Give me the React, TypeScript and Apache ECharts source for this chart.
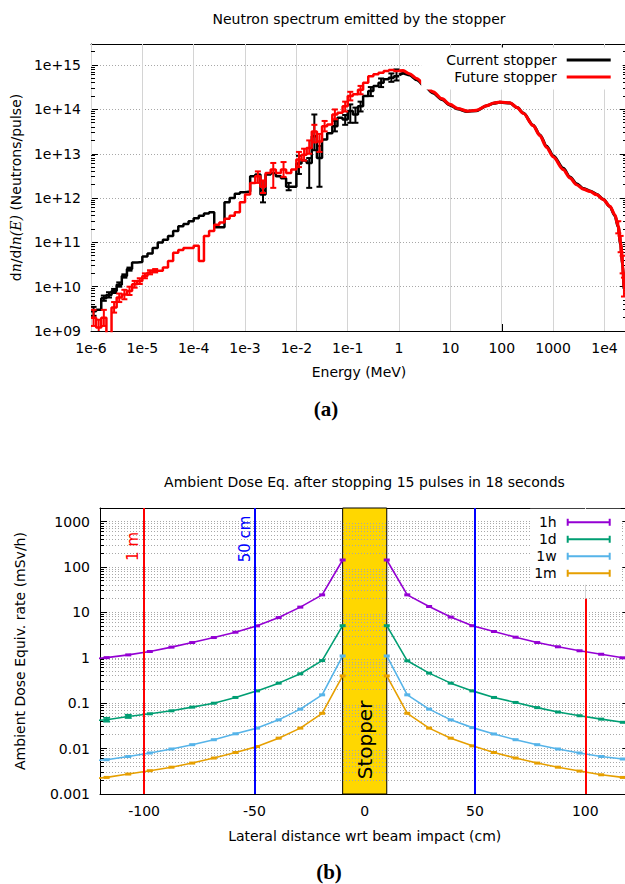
import React, { useEffect, useRef } from 'react';
import * as echarts from 'echarts';

const FONT = 'DejaVu Sans';

// ---------------- (a) Neutron spectrum emitted by the stopper ----------------
const energyTicks = [1e-6, 1e-5, 1e-4, 1e-3, 1e-2, 1e-1, 1, 10, 100, 1000, 1e4];
const fluxTicks = [1e9, 1e10, 1e11, 1e12, 1e13, 1e14, 1e15];
const binsPerDecade = 10;
const firstBinExponent = -6;

// histogram bins (10 per decade) from 1e-6 MeV to 1 MeV
const currentStopperBins = [
  2.8e9, 3.0e9, 5.5e9, 6.5e9, 8.0e9, 1.1e10, 1.75e10, 2.5e10, 3.5e10, 3.6e10,
  4.8e10, 5.6e10, 7.5e10, 1.0e11, 1.15e11, 1.4e11, 1.8e11, 2.3e11, 2.6e11, 3.0e11,
  3.5e11, 4.0e11, 4.5e11, 4.8e11, 2.2e11, 2.2e11, 8.0e11, 1.0e12, 1.25e12, 1.35e12,
  1.4e12, 3.1e12, 3.4e12, 1.2e12, 3.4e12, 3.7e12, 3.1e12, 2.8e12, 1.8e12, 1.8e12,
  6.0e12, 7.0e12, 6.2e12, 2.5e13, 8.0e12, 2.1e13, 2.9e13, 4.2e13, 6.5e13, 5.9e13,
  9.2e13, 7.7e13, 1.18e14, 2.0e14, 2.6e14, 3.4e14, 4.0e14, 4.8e14, 5.2e14, 5.6e14,
];
const futureStopperBins = [
  2.0e9, 1.2e9, 2.0e9, 8.0e8, 3.4e9, 5.7e9, 6.7e9, 8.0e9, 1.14e10, 1.35e10,
  1.75e10, 2.1e10, 2.3e10, 2.3e10, 2.7e10, 3.8e10, 5.8e10, 6.7e10, 7.5e10, 7.5e10,
  8.4e10, 3.8e10, 1.4e11, 1.8e11, 2.5e11, 2.8e11, 3.4e11, 4.0e11, 4.8e11, 8.0e11,
  1.2e12, 2.2e12, 3.1e12, 1.8e12, 3.7e12, 4.4e12, 3.7e12, 4.4e12, 3.7e12, 4.4e12,
  7.4e12, 9.5e12, 1.35e13, 3.2e13, 1.9e13, 4.2e13, 4.6e13, 7.7e13, 8.4e13, 1.18e14,
  2.0e14, 2.2e14, 2.8e14, 4.0e14, 5.6e14, 6.2e14, 6.7e14, 7.4e14, 7.8e14, 7.4e14,
];
// finely binned high-energy part (MeV)
const highEnergyMeV = [
  1.0, 1.2, 1.6, 2.2, 3.2, 4.6, 6.8, 9.8, 14, 21, 32, 51, 70, 92, 145, 200, 263, 410,
  550, 748, 1007, 1578, 2130, 2875, 3865, 5220, 7050, 9490, 12800, 16000, 18600, 20650,
  22600, 24000,
];
const currentStopperHigh = [
  6.0e14, 6.6e14, 6.0e14, 4.7e14, 3.3e14, 2.35e14, 1.68e14, 1.25e14, 1.02e14, 9.0e13,
  9.4e13, 1.21e14, 1.38e14, 1.45e14, 1.4e14, 1.1e14, 8.3e13, 4.4e13, 2.7e13, 1.48e13,
  9.0e12, 4.7e12, 3.0e12, 2.1e12, 1.65e12, 1.45e12, 1.22e12, 9.4e11, 6.4e11, 4.0e11,
  2.2e11, 9.0e10, 3.2e10, 9.0e9,
];
const futureStopperHigh = [
  7.4e14, 7.5e14, 6.4e14, 5.0e14, 3.5e14, 2.5e14, 1.75e14, 1.3e14, 1.05e14, 9.2e13,
  9.5e13, 1.22e14, 1.4e14, 1.46e14, 1.41e14, 1.1e14, 8.2e13, 4.3e13, 2.6e13, 1.4e13,
  8.5e12, 4.4e12, 2.85e12, 2.0e12, 1.6e12, 1.41e12, 1.19e12, 9.2e11, 6.5e11, 4.2e11,
  2.3e11, 9.6e10, 3.4e10, 1.0e10,
];
// error bars on histogram bins: [bin index, low, high]
const currentStopperBinErrors = [
  [0, 2.2e9, 3.5e9], [2, 4.8e9, 6.3e9], [3, 5.7e9, 7.5e9], [4, 7.2e9, 8.9e9], [5, 1.0e10, 1.25e10],
  [6, 1.6e10, 1.9e10], [7, 2.3e10, 2.7e10], [33, 8.0e11, 1.5e12], [38, 1.5e12, 2.2e12],
  [40, 3.5e12, 9.0e12], [42, 1.7e12, 8.0e12], [43, 1.2e13, 7.7e13], [44, 1.8e12, 1.5e13],
  [47, 3.2e13, 5.5e13], [49, 4.5e13, 7.5e13], [50, 5.0e13, 1.3e14], [51, 5.0e13, 1.1e14],
  [52, 9.0e13, 1.5e14], [54, 2.0e14, 3.2e14], [56, 3.2e14, 5.0e14], [58, 4.2e14, 6.5e14],
  [59, 4.5e14, 8.0e14],
];
const futureStopperBinErrors = [
  [0, 1.3e9, 3.0e9], [1, 8.0e8, 1.8e9], [2, 1.3e9, 3.0e9], [4, 2.6e9, 4.5e9], [5, 4.5e9, 7.0e9],
  [6, 5.2e9, 8.5e9], [7, 6.5e9, 1.0e10], [8, 9.5e9, 1.35e10], [9, 1.15e10, 1.55e10],
  [10, 1.55e10, 2.0e10], [11, 1.9e10, 2.35e10], [12, 2.1e10, 2.5e10], [32, 2.2e12, 4.0e12],
  [33, 1.3e12, 2.5e12], [35, 1.7e12, 6.2e12], [37, 3.0e12, 6.5e12], [40, 5.0e12, 1.1e13],
  [41, 7.0e12, 1.3e13], [42, 1.0e13, 2.0e13], [43, 1.8e13, 4.5e13], [44, 1.1e13, 2.8e13],
  [45, 3.2e13, 5.5e13], [47, 6.0e13, 1.0e14], [49, 9.0e13, 1.5e14], [50, 1.6e14, 2.5e14],
  [52, 2.2e14, 3.4e14],
];
// error bars in the high-energy tail: [energy MeV, low, high]
const futureStopperTailErrors = [
  [18600, 1.6e11, 3.0e11], [20650, 6.0e10, 1.4e11], [22600, 2.0e10, 5.0e10], [24000, 6.0e9, 1.6e10],
];

// ---------------- (b) Ambient dose equivalent ----------------
const lateralTicks = [-100, -50, 0, 50, 100];
const doseTicks = [0.001, 0.01, 0.1, 1, 10, 100, 1000];
const lateralPositions = [
  -127, -117, -107.2, -97.4, -87.6, -78.2, -68.4, -58.6, -48.8, -39, -29.2, -19.3, -10, 0,
  10, 19.3, 29.2, 39, 48.8, 58.6, 68.4, 78.2, 87.6, 97.4, 107.2, 117, 127,
];
const dose1h = [
  0.9, 1.01, 1.16, 1.38, 1.72, 2.17, 2.8, 3.67, 5.06, 7.7, 13.1, 24.4, 143, null,
  143, 24.4, 13.5, 7.9, 5.1, 3.8, 2.85, 2.17, 1.75, 1.43, 1.2, 1.0, 0.88,
];
const dose1d = [
  0.04, 0.0432, 0.051, 0.0585, 0.068, 0.082, 0.1, 0.134, 0.187, 0.277, 0.445, 0.87, 5.1, null,
  5.1, 0.86, 0.46, 0.277, 0.187, 0.134, 0.104, 0.08, 0.064, 0.053, 0.0446, 0.038, 0.035,
];
const dose1w = [
  0.0052, 0.0057, 0.0067, 0.008, 0.0098, 0.0122, 0.0157, 0.0212, 0.0283, 0.043, 0.074, 0.153, 1.1, null,
  1.1, 0.153, 0.074, 0.043, 0.029, 0.021, 0.0157, 0.0122, 0.0098, 0.008, 0.0067, 0.0059, 0.0053,
];
const dose1m = [
  0.0021, 0.00232, 0.00275, 0.00326, 0.0039, 0.0048, 0.0062, 0.0082, 0.0111, 0.017, 0.0283, 0.06, 0.4, null,
  0.4, 0.06, 0.0283, 0.017, 0.0115, 0.0082, 0.0062, 0.0048, 0.0039, 0.0032, 0.00265, 0.00232, 0.0021,
];
const dose1dErrors = [
  [-117, 0.039, 0.048], [-107.2, 0.047, 0.056],
];
const doseSeriesNames = ['1h', '1d', '1w', '1m'];
const doseSeriesColors = ['#9400d3', '#009e73', '#56b4e9', '#e69f00'];
const doseSeriesValues = [dose1h, dose1d, dose1w, dose1m];
const stopperExtent = [-10, 10];
const referenceLines = [
  { x: -100, top: 2000, color: '#ff0000' },
  { x: -50, top: 2000, color: '#0000ff' },
  { x: 50, top: 2000, color: '#0000ff' },
  { x: 100, top: 20, color: '#ff0000' },
];
const referenceLabels = [
  { text: '1 m', x: -105, y: 285, color: '#ff0000' },
  { text: '50 cm', x: -54.2, y: 416, color: '#0000ff' },
];

// ---------------- helpers ----------------
function binEdge(k: number) {
  return Math.pow(10, firstBinExponent + k / binsPerDecade);
}
function stepData(values: number[]) {
  const pts: number[][] = values.map((v, k) => [binEdge(k), v]);
  pts.push([binEdge(values.length), values[values.length - 1]]);
  return pts;
}
function exp10(v: number) {
  return Math.round(Math.log10(v));
}
function fmtEnergy(v: number) {
  const p = exp10(v);
  if (p < 0) return '1e' + p;
  if (p <= 3) return String(Math.pow(10, p));
  return '1e' + p;
}
function fmtFlux(v: number) {
  const p = exp10(v);
  return '1e+' + (p < 10 ? '0' + p : String(p));
}
function fmtDose(v: number) {
  return String(Number('1e' + exp10(v)));
}
function minorLogTicks(lo: number, hi: number, maxValue: number) {
  const out: number[] = [];
  for (let p = lo; p <= hi; p++) {
    for (let m = 2; m <= 9; m++) {
      const v = m * Math.pow(10, p);
      if (v < maxValue) out.push(v);
    }
  }
  return out;
}
function errRender(color: string, capHalf: number, lw: number) {
  return (params: any, api: any) => {
    const x = api.value(0);
    const a = api.coord([x, api.value(1)]);
    const b = api.coord([x, api.value(2)]);
    const style = { stroke: color, lineWidth: lw };
    return {
      type: 'group',
      children: [
        { type: 'line', shape: { x1: a[0], y1: a[1], x2: b[0], y2: b[1] }, style },
        { type: 'line', shape: { x1: a[0] - capHalf, y1: a[1], x2: a[0] + capHalf, y2: a[1] }, style },
        { type: 'line', shape: { x1: b[0] - capHalf, y1: b[1], x2: b[0] + capHalf, y2: b[1] }, style },
      ],
    };
  };
}
const crisp = (v: number) => Math.round(v - 0.5) + 0.5;
// light vertical grid line through the data point, spanning the grid
function vGridRender(params: any, api: any) {
  const cs = params.coordSys;
  const x = crisp(api.coord([api.value(0), api.value(1)])[0]);
  return {
    type: 'line',
    shape: { x1: x, y1: cs.y, x2: x, y2: cs.y + cs.height },
    style: { stroke: '#d4d4d4', lineWidth: 1 },
  };
}
// dotted horizontal grid line through the data point, spanning the grid
function hGridRender(params: any, api: any) {
  const cs = params.coordSys;
  const y = crisp(api.coord([api.value(0), api.value(1)])[1]);
  return {
    type: 'line',
    shape: { x1: cs.x, y1: y, x2: cs.x + cs.width, y2: y },
    style: { stroke: '#a8a8a8', lineWidth: 1, lineDash: [1, 2] },
  };
}
// short minor ticks on the left and right borders
function minorTickRender(params: any, api: any) {
  const cs = params.coordSys;
  const y = crisp(api.coord([api.value(0), api.value(1)])[1]);
  const style = { stroke: '#000', lineWidth: 1 };
  return {
    type: 'group',
    children: [
      { type: 'line', shape: { x1: cs.x, y1: y, x2: cs.x + 4, y2: y }, style },
      { type: 'line', shape: { x1: cs.x + cs.width - 4, y1: y, x2: cs.x + cs.width, y2: y }, style },
    ],
  };
}

const black = '#000000';
const red = '#ff0000';
const gridDots = { color: '#a8a8a8', type: [1, 2], width: 1 };
const axisLine = { show: true, onZero: false, lineStyle: { color: '#000', width: 1 } };
const tickStyle = { color: '#000', width: 1 };
const labelStyle = { fontSize: 14, color: '#000', fontFamily: FONT };
const errIcon = 'path://M0,0h2v7h-2z M0,2.5h44v2h-44z M42,0h2v7h-2z';

function buildOption() {
  const minorFlux = minorLogTicks(9, 15, 3e15);
  const minorDose = minorLogTicks(-3, 3, 2000);
  // grid lines hidden behind the stopper are not drawn
  const visibleLateralGrid = lateralTicks.filter((x) => x < stopperExtent[0] || x > stopperExtent[1]);

  const series: any[] = [
    // ---------- (a) grid & minor ticks ----------
    {
      name: 'energy grid', type: 'custom', xAxisIndex: 0, yAxisIndex: 0, z: 2,
      renderItem: vGridRender, encode: { x: 0, y: 1 }, data: energyTicks.map((e) => [e, 1e12]),
    },
    {
      name: 'flux minor ticks', type: 'custom', xAxisIndex: 0, yAxisIndex: 0, z: 2,
      renderItem: minorTickRender, encode: { x: 0, y: 1 }, data: minorFlux.map((v) => [1, v]),
    },
    // ---------- (a) ----------
    {
      name: 'Current stopper', type: 'line', xAxisIndex: 0, yAxisIndex: 0,
      data: stepData(currentStopperBins), step: 'end', symbol: 'none', showSymbol: false,
      lineStyle: { color: black, width: 2.5 }, itemStyle: { color: black }, z: 2,
    },
    {
      name: 'Current stopper', type: 'line', xAxisIndex: 0, yAxisIndex: 0,
      data: highEnergyMeV.map((e, i) => [e, currentStopperHigh[i]]), smooth: 0.3, smoothMonotone: 'x',
      symbol: 'none', showSymbol: false, lineStyle: { color: black, width: 3 }, itemStyle: { color: black }, z: 2,
    },
    {
      name: 'Current stopper errors', type: 'custom', xAxisIndex: 0, yAxisIndex: 0, clip: true,
      renderItem: errRender(black, 3, 2), encode: { x: 0, y: [1, 2] }, z: 3,
      data: currentStopperBinErrors.map(([k, lo, hi]) => [binEdge(k + 0.5), lo, hi]),
    },
    {
      name: 'Future stopper', type: 'line', xAxisIndex: 0, yAxisIndex: 0,
      data: stepData(futureStopperBins), step: 'end', symbol: 'none', showSymbol: false,
      lineStyle: { color: red, width: 2.5 }, itemStyle: { color: red }, z: 4,
    },
    {
      name: 'Future stopper', type: 'line', xAxisIndex: 0, yAxisIndex: 0,
      data: highEnergyMeV.map((e, i) => [e, futureStopperHigh[i]]), smooth: 0.3, smoothMonotone: 'x',
      symbol: 'none', showSymbol: false, lineStyle: { color: red, width: 3.2 }, itemStyle: { color: red }, z: 4,
    },
    {
      name: 'Future stopper errors', type: 'custom', xAxisIndex: 0, yAxisIndex: 0, clip: true,
      renderItem: errRender(red, 3, 2), encode: { x: 0, y: [1, 2] }, z: 5,
      data: futureStopperBinErrors.map(([k, lo, hi]) => [binEdge(k + 0.5), lo, hi])
        .concat(futureStopperTailErrors.map(([e, lo, hi]) => [e, lo, hi])),
    },
    // ---------- (b) grid & minor ticks ----------
    {
      name: 'lateral grid', type: 'custom', xAxisIndex: 2, yAxisIndex: 2, z: 2,
      renderItem: vGridRender, encode: { x: 0, y: 1 }, data: visibleLateralGrid.map((x) => [x, 1]),
    },
    {
      name: 'dose minor grid', type: 'custom', xAxisIndex: 2, yAxisIndex: 2, z: 2,
      renderItem: hGridRender, encode: { x: 0, y: 1 }, data: minorDose.map((v) => [0, v]),
    },
    {
      name: 'dose minor ticks', type: 'custom', xAxisIndex: 2, yAxisIndex: 2, z: 2,
      renderItem: minorTickRender, encode: { x: 0, y: 1 }, data: minorDose.map((v) => [0, v]),
    },
    {
      name: 'reference distances', type: 'scatter', xAxisIndex: 2, yAxisIndex: 2, data: [], silent: true, z: 2,
      markLine: {
        silent: true, symbol: ['none', 'none'], label: { show: false }, animation: false, precision: 20,
        data: referenceLines.map((r) => [
          { coord: [r.x, 0.001], lineStyle: { color: r.color, width: 2, type: 'solid' } },
          { coord: [r.x, r.top] },
        ]),
      },
      markPoint: {
        silent: true, symbol: 'circle', symbolSize: 0, animation: false,
        data: referenceLabels.map((l) => ({
          coord: [l.x, l.y],
          label: { show: true, formatter: l.text, rotate: 90, position: 'inside', color: l.color, fontSize: 15, fontFamily: FONT },
        })),
      },
    },
  ];

  doseSeriesNames.forEach((name, i) => {
    series.push({
      name, type: 'line', xAxisIndex: 2, yAxisIndex: 2,
      data: lateralPositions.map((x, j) => [x, doseSeriesValues[i][j] == null ? '-' : doseSeriesValues[i][j]]),
      connectNulls: false, symbol: 'rect', symbolSize: [6, 3], showAllSymbol: true,
      lineStyle: { color: doseSeriesColors[i], width: 1.6 }, itemStyle: { color: doseSeriesColors[i] }, z: 3,
    });
  });
  series.push({
    name: '1d errors', type: 'custom', xAxisIndex: 2, yAxisIndex: 2, clip: true,
    renderItem: errRender(doseSeriesColors[1], 3.5, 1.5), encode: { x: 0, y: [1, 2] }, z: 3,
    data: dose1dErrors,
  });
  series.push({
    name: 'stopper', type: 'scatter', xAxisIndex: 2, yAxisIndex: 2, data: [], silent: true, z: 6,
    markArea: {
      silent: true, animation: false,
      itemStyle: { color: '#ffd700', borderColor: '#000', borderWidth: 1, opacity: 1 },
      label: { show: false },
      data: [[{ xAxis: stopperExtent[0], yAxis: 0.001 }, { xAxis: stopperExtent[1], yAxis: 2000 }]],
    },
    markPoint: {
      silent: true, symbol: 'circle', symbolSize: 0, animation: false,
      data: [{
        coord: [0, 0.0155],
        label: { show: true, formatter: 'Stopper', rotate: 90, position: 'inside', color: '#000', fontSize: 20, fontFamily: FONT },
      }],
    },
  });

  return {
    animation: false,
    backgroundColor: '#ffffff',
    textStyle: { fontFamily: FONT },
    title: [
      {
        text: 'Neutron spectrum emitted by the stopper', left: 359, top: 12, textAlign: 'center', padding: 0,
        textStyle: { fontSize: 14, fontWeight: 'normal', color: '#000', fontFamily: FONT },
      },
      {
        text: 'Ambient Dose Eq. after stopping 15 pulses in 18 seconds', left: 364.5, top: 475, textAlign: 'center', padding: 0,
        textStyle: { fontSize: 14, fontWeight: 'normal', color: '#000', fontFamily: FONT },
      },
    ],
    graphic: [
      { type: 'text', x: 326, y: 409, style: { text: '(a)', fontSize: 21, fontWeight: 'bold', fontFamily: 'Liberation Serif', fill: '#000', align: 'center', verticalAlign: 'middle' } },
      { type: 'text', x: 329, y: 872, style: { text: '(b)', fontSize: 21, fontWeight: 'bold', fontFamily: 'Liberation Serif', fill: '#000', align: 'center', verticalAlign: 'middle' } },
    ],
    legend: [
      {
        data: [
          { name: 'Current stopper', itemStyle: { color: black } },
          { name: 'Future stopper', itemStyle: { color: red } },
        ],
        orient: 'vertical', align: 'right', right: 2.3, top: 47.5, padding: [4, 12, 4, 25],
        icon: 'rect', itemWidth: 44, itemHeight: 3, itemGap: 0, backgroundColor: '#ffffff',
        selectedMode: false, z: 10,
        textStyle: { fontSize: 14, color: '#000', fontFamily: FONT, lineHeight: 17, padding: [0, 5, 0, 0] },
      },
      {
        data: doseSeriesNames.map((n, i) => ({ name: n, icon: errIcon, itemStyle: { color: doseSeriesColors[i] } })),
        orient: 'vertical', align: 'right', right: 4.3, top: 508.8, padding: [5, 10, 3, 4],
        itemWidth: 44, itemHeight: 7, itemGap: 0, backgroundColor: '#ffffff',
        selectedMode: false, z: 10,
        textStyle: { fontSize: 14, color: '#000', fontFamily: FONT, lineHeight: 17, padding: [0, 5, 0, 0] },
      },
    ],
    grid: [
      { left: 91, top: 44, width: 536, height: 287, outerBoundsMode: 'none', containLabel: false },
      { left: 100, top: 508, width: 529.4, height: 286, outerBoundsMode: 'none', containLabel: false },
    ],
    xAxis: [
      {
        gridIndex: 0, type: 'log', logBase: 10, min: 1e-6, max: 2.75e4, position: 'bottom',
        axisLine, axisTick: { show: true, inside: true, length: 7, lineStyle: tickStyle, customValues: energyTicks },
        axisLabel: { ...labelStyle, margin: 10, formatter: fmtEnergy, customValues: energyTicks, showMinLabel: true },
        splitLine: { show: false },
        name: 'Energy (MeV)', nameLocation: 'middle', nameGap: 34,
        nameTextStyle: { fontSize: 14, color: '#000', fontFamily: FONT },
      },
      {
        gridIndex: 0, type: 'log', logBase: 10, min: 1e-6, max: 2.75e4, position: 'top',
        axisLine, axisTick: { show: true, inside: true, length: 7, lineStyle: tickStyle, customValues: energyTicks },
        axisLabel: { show: false, customValues: energyTicks }, splitLine: { show: false },
      },
      {
        gridIndex: 1, type: 'value', min: -120, max: 120, position: 'bottom',
        axisLine, axisTick: { show: true, inside: true, length: 7, lineStyle: tickStyle, customValues: lateralTicks },
        axisLabel: { ...labelStyle, margin: 10, customValues: lateralTicks },
        splitLine: { show: false },
        name: 'Lateral distance wrt beam impact (cm)', nameLocation: 'middle', nameGap: 35,
        nameTextStyle: { fontSize: 14, color: '#000', fontFamily: FONT },
      },
      {
        gridIndex: 1, type: 'value', min: -120, max: 120, position: 'top',
        axisLine, axisTick: { show: true, inside: true, length: 7, lineStyle: tickStyle, customValues: lateralTicks },
        axisLabel: { show: false, customValues: lateralTicks }, splitLine: { show: false },
      },
    ],
    yAxis: [
      {
        gridIndex: 0, type: 'log', logBase: 10, min: 1e9, max: 3e15, position: 'left',
        axisLine, axisTick: { show: true, inside: true, length: 7, lineStyle: tickStyle, customValues: fluxTicks },
        axisLabel: { ...labelStyle, margin: 10, formatter: fmtFlux, customValues: fluxTicks },
        splitLine: { show: true, lineStyle: gridDots },
        name: '{r|d}{i|n}{r|/d}{i|ln(E)}{r| (Neutrons/pulse)}', nameLocation: 'middle', nameGap: 64,
        nameTextStyle: {
          color: '#000', fontSize: 14, fontFamily: FONT,
          rich: {
            r: { fontSize: 14, fontFamily: FONT, color: '#000' },
            i: { fontSize: 14, fontFamily: 'DejaVu Serif', fontStyle: 'italic', color: '#000' },
          },
        },
      },
      {
        gridIndex: 0, type: 'log', logBase: 10, min: 1e9, max: 3e15, position: 'right',
        axisLine, axisTick: { show: true, inside: true, length: 7, lineStyle: tickStyle, customValues: fluxTicks },
        axisLabel: { show: false, customValues: fluxTicks }, splitLine: { show: false },
      },
      {
        gridIndex: 1, type: 'log', logBase: 10, min: 0.001, max: 2000, position: 'left',
        axisLine, axisTick: { show: true, inside: true, length: 7, lineStyle: tickStyle, customValues: doseTicks },
        axisLabel: { ...labelStyle, margin: 10, formatter: fmtDose, customValues: doseTicks },
        splitLine: { show: true, lineStyle: gridDots },
        name: 'Ambient Dose Equiv. rate (mSv/h)', nameLocation: 'middle', nameGap: 73,
        nameTextStyle: { fontSize: 14, color: '#000', fontFamily: FONT },
      },
      {
        gridIndex: 1, type: 'log', logBase: 10, min: 0.001, max: 2000, position: 'right',
        axisLine, axisTick: { show: true, inside: true, length: 7, lineStyle: tickStyle, customValues: doseTicks },
        axisLabel: { show: false, customValues: doseTicks }, splitLine: { show: false },
      },
    ],
    series,
  };
}

export default function App() {
  const ref = useRef<HTMLDivElement>(null);
  useEffect(() => {
    document.body.style.margin = '0';
    const chart = echarts.init(ref.current as HTMLDivElement, null, { renderer: 'svg' });
    chart.setOption(buildOption() as any);
    return () => chart.dispose();
  }, []);
  return (
    <div
      ref={ref}
      style={{ position: 'absolute', left: 0, top: 0, width: 625, height: 884, background: '#ffffff' }}
    />
  );
}
